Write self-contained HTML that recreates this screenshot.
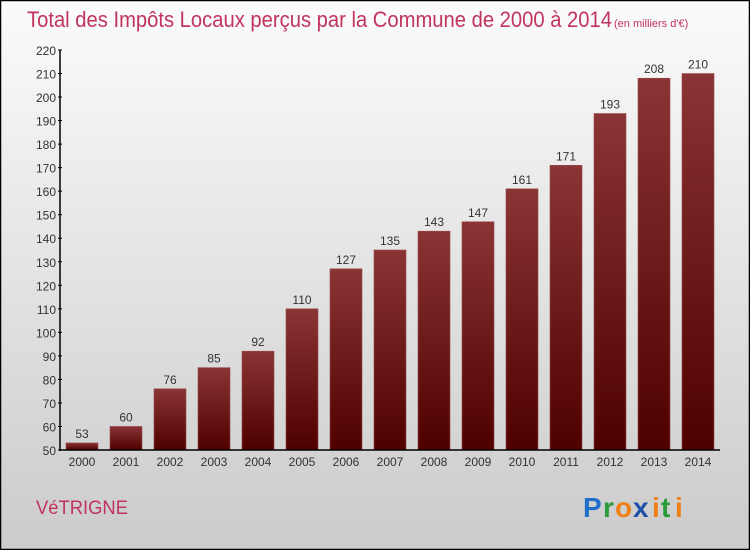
<!DOCTYPE html>
<html><head><meta charset="utf-8"><style>
html,body{margin:0;padding:0}
body{width:750px;height:550px;overflow:hidden;font-family:"Liberation Sans",sans-serif}
</style></head><body>
<svg id="chart" width="750" height="550" xmlns="http://www.w3.org/2000/svg">
<defs>
<linearGradient id="bg" x1="0" y1="0" x2="0" y2="1"><stop offset="0" stop-color="#fbfbfb"/><stop offset="1" stop-color="#cbcbcb"/></linearGradient>
<linearGradient id="bar" x1="0" y1="0" x2="0" y2="1"><stop offset="0" stop-color="#8a3436"/><stop offset="1" stop-color="#4e0000"/></linearGradient>
</defs>
<rect x="0.5" y="0.5" width="749" height="549" fill="url(#bg)" stroke="#000" stroke-width="1.5"/>
<text x="27" y="27" font-size="22" fill="#c0345e" font-weight="300" textLength="585" lengthAdjust="spacingAndGlyphs">Total des Impôts Locaux perçus par la Commune de 2000 à 2014</text>
<text x="614" y="27" font-size="11" fill="#c0345e">(en milliers d'€)</text>
<text x="36" y="514" font-size="19" fill="#c0345e" textLength="92" lengthAdjust="spacingAndGlyphs">VéTRIGNE</text>
<g font-size="28" font-weight="bold" font-family="'Liberation Sans',sans-serif">
<text x="583" y="517" fill="#1f6fc8">P</text><text x="603" y="517" fill="#2a9a3a">r</text><text x="615" y="517" fill="#f07f16">o</text><text x="633" y="517" fill="#1f4fa8">x</text><text x="652" y="517" fill="#f07f16">i</text><text x="661" y="517" fill="#2a9a3a">t</text><text x="675" y="517" fill="#f07f16">i</text>
</g>
<g id="plot"></g>
</svg>
<script>
const years=["2000","2001","2002","2003","2004","2005","2006","2007","2008","2009","2010","2011","2012","2013","2014"];
const values=[53,60,76,85,92,110,127,135,143,147,161,171,193,208,210];
const yTicks=[50,60,70,80,90,100,110,120,130,140,150,160,170,180,190,200,210,220];
const NS="http://www.w3.org/2000/svg";
const g=document.getElementById('plot');
const y=v=>450-(v-50)*400/170;
const x=i=>82+i*44;
function mk(t,a){const e=document.createElementNS(NS,t);for(const k in a)e.setAttribute(k,a[k]);g.appendChild(e);return e;}
yTicks.forEach(v=>{
 const t=mk('text',{x:56,y:y(v)+5,'font-size':12,'text-anchor':'end',fill:'#333'});t.textContent=v;
 
 
 const l=mk('line',{x1:58,x2:62,y1:y(v),y2:y(v),stroke:'#000'});
 
 
});
values.forEach((v,i)=>{
 const r=mk('rect',{x:x(i)-16,y:y(v),width:32,height:450-y(v),fill:'url(#bar)',stroke:'#9a4a4c','stroke-width':0.6});
 
 
 const t=mk('text',{x:x(i),y:y(v)-5,'font-size':12,'text-anchor':'middle',fill:'#333'});t.textContent=v;
 
 
 const xl=mk('text',{x:x(i),y:466,'font-size':12,'text-anchor':'middle',fill:'#333'});xl.textContent=years[i];
 
 
});
const ya=mk('line',{x1:60,x2:60,y1:y(220),y2:451,stroke:'#000','stroke-width':1.5});


const xa=mk('line',{x1:60,x2:720,y1:450,y2:450,stroke:'#000','stroke-width':1.5});


</script>
</body></html>
